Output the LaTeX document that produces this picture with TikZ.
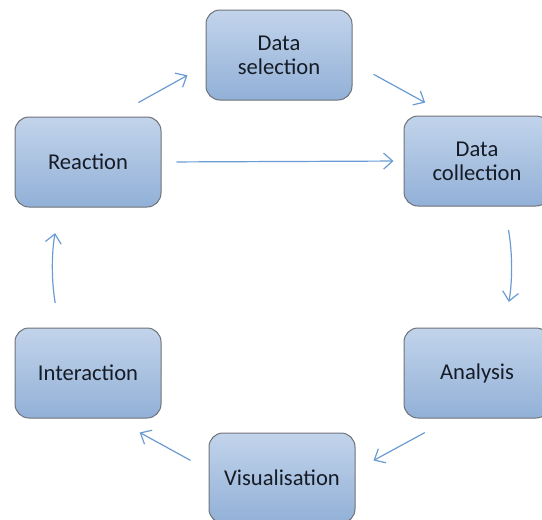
\documentclass[tikz,border=0pt]{standalone}
\usepackage{fontspec}
\setmainfont{Carlito}
\usetikzlibrary{arrows.meta}
\definecolor{boxtop}{HTML}{C2D4EB}
\definecolor{boxbottom}{HTML}{92B0D7}
\definecolor{boxline}{HTML}{6E7378}
\definecolor{boxtext}{HTML}{161C26}
\definecolor{arrowblue}{HTML}{6A9BD3}
\tikzset{
    stagenode/.style={
        rectangle,
        rounded corners=14pt,
        draw=boxline, % grey border
        top color=boxtop, % light blue shading
        bottom color=boxbottom,
        line width=1pt,
        minimum width=146pt,
        minimum height=90pt,
        align=center,
        text=boxtext,
        font=\fontsize{22.6}{24}\selectfont
    },
    flowarrow/.style={
        draw=arrowblue,
        line width=1.2pt,
        -{Straight Barb[length=9pt,width=16pt,line width=1.2pt]}
    }
}

\begin{document}
\begin{tikzpicture}[x=1pt, y=-1pt]
    \useasboundingbox (0,0) rectangle (542,520);
    % the six stages
    \node[stagenode] (selection)     at (279,55)  {Data\\selection};
    \node[stagenode] (reaction)      at (88,162)  {Reaction};
    \node[stagenode] (collection)    at (477,161) {Data\\collection};
    \node[stagenode] (analysis)      at (477,373) {Analysis};
    \node[stagenode] (visualisation) at (282,478) {Visualisation};
    \node[stagenode] (interaction)   at (88,373)  {Interaction};
    % cycle arrows
    \draw[flowarrow, shorten <=28.7pt, shorten >=20.6pt]
        (reaction.61) -- (selection.188);
    \draw[flowarrow, shorten <=24pt, shorten >=26.7pt]
        (selection.-6) -- (collection.122);
    \draw[flowarrow, shorten <=15pt, shorten >=10pt]
        (reaction.east) -- (collection.west);
    \draw[flowarrow, shorten <=24pt, shorten >=26pt]
        (collection.-59) to[bend left=10] (analysis.59);
    \draw[flowarrow, shorten <=29.6pt, shorten >=20.5pt]
        (analysis.240) -- (visualisation.6);
    \draw[flowarrow, shorten <=20.5pt, shorten >=29pt]
        (visualisation.174) -- (interaction.-60);
    \draw[flowarrow, shorten <=25pt, shorten >=26pt]
        (interaction.122) to[bend left=10] (reaction.238);
\end{tikzpicture}
\end{document}
